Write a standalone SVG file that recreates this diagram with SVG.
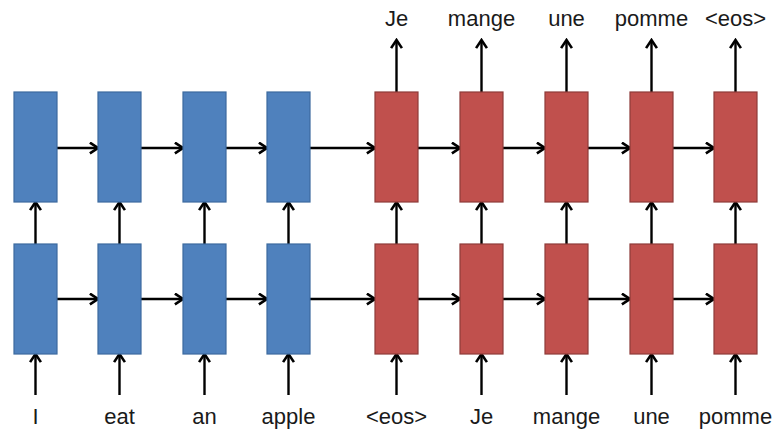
<svg xmlns="http://www.w3.org/2000/svg" width="778" height="435" viewBox="0 0 778 435">
<defs>
<marker id="ah" viewBox="0 0 12 12" refX="10.5" refY="6" markerWidth="13" markerHeight="13" markerUnits="userSpaceOnUse" orient="auto">
<polyline points="3,1 10.5,6 3,11" fill="none" stroke="#000" stroke-width="2.4" stroke-linejoin="miter"/>
</marker>
</defs>
<style>
.enc{fill:#4f81bd;stroke:#3d6a9e;stroke-width:1.2}
.dec{fill:#c0504d;stroke:#8e3b39;stroke-width:1.2}
.c line{stroke:#000;stroke-width:2.4;marker-end:url(#ah)}
text{font-family:"Liberation Sans",Arial,sans-serif;font-size:22px;fill:#1a1a1a;text-anchor:middle}
</style>
<rect width="778" height="435" fill="#fff"/>
<g class="c" id="connectors">
<line x1="57" y1="148" x2="98" y2="148"/>
<line x1="141" y1="148" x2="183" y2="148"/>
<line x1="226" y1="148" x2="267" y2="148"/>
<line x1="310" y1="148" x2="375" y2="148"/>
<line x1="418" y1="148" x2="460" y2="148"/>
<line x1="503" y1="148" x2="545" y2="148"/>
<line x1="588" y1="148" x2="630" y2="148"/>
<line x1="673" y1="148" x2="714" y2="148"/>
<line x1="57" y1="299" x2="98" y2="299"/>
<line x1="141" y1="299" x2="183" y2="299"/>
<line x1="226" y1="299" x2="267" y2="299"/>
<line x1="310" y1="299" x2="375" y2="299"/>
<line x1="418" y1="299" x2="460" y2="299"/>
<line x1="503" y1="299" x2="545" y2="299"/>
<line x1="588" y1="299" x2="630" y2="299"/>
<line x1="673" y1="299" x2="714" y2="299"/>
<line x1="35.5" y1="244" x2="35.5" y2="202"/>
<line x1="119.5" y1="244" x2="119.5" y2="202"/>
<line x1="204.5" y1="244" x2="204.5" y2="202"/>
<line x1="288.5" y1="244" x2="288.5" y2="202"/>
<line x1="396.5" y1="244" x2="396.5" y2="202"/>
<line x1="481.5" y1="244" x2="481.5" y2="202"/>
<line x1="566.5" y1="244" x2="566.5" y2="202"/>
<line x1="651.5" y1="244" x2="651.5" y2="202"/>
<line x1="735.5" y1="244" x2="735.5" y2="202"/>
<line x1="35.5" y1="395" x2="35.5" y2="354"/>
<line x1="119.5" y1="395" x2="119.5" y2="354"/>
<line x1="204.5" y1="395" x2="204.5" y2="354"/>
<line x1="288.5" y1="395" x2="288.5" y2="354"/>
<line x1="396.5" y1="395" x2="396.5" y2="354"/>
<line x1="481.5" y1="395" x2="481.5" y2="354"/>
<line x1="566.5" y1="395" x2="566.5" y2="354"/>
<line x1="651.5" y1="395" x2="651.5" y2="354"/>
<line x1="735.5" y1="395" x2="735.5" y2="354"/>
<line x1="396.5" y1="92" x2="396.5" y2="40"/>
<line x1="481.5" y1="92" x2="481.5" y2="40"/>
<line x1="566.5" y1="92" x2="566.5" y2="40"/>
<line x1="651.5" y1="92" x2="651.5" y2="40"/>
<line x1="735.5" y1="92" x2="735.5" y2="40"/>
</g>
<g id="enc-top-1"><rect class="enc" x="14" y="92" width="43" height="110"/></g>
<g id="enc-top-2"><rect class="enc" x="98" y="92" width="43" height="110"/></g>
<g id="enc-top-3"><rect class="enc" x="183" y="92" width="43" height="110"/></g>
<g id="enc-top-4"><rect class="enc" x="267" y="92" width="43" height="110"/></g>
<g id="dec-top-1"><rect class="dec" x="375" y="92" width="43" height="110"/></g>
<g id="dec-top-2"><rect class="dec" x="460" y="92" width="43" height="110"/></g>
<g id="dec-top-3"><rect class="dec" x="545" y="92" width="43" height="110"/></g>
<g id="dec-top-4"><rect class="dec" x="630" y="92" width="43" height="110"/></g>
<g id="dec-top-5"><rect class="dec" x="714" y="92" width="43" height="110"/></g>
<g id="enc-bot-1"><rect class="enc" x="14" y="244" width="43" height="110"/></g>
<g id="enc-bot-2"><rect class="enc" x="98" y="244" width="43" height="110"/></g>
<g id="enc-bot-3"><rect class="enc" x="183" y="244" width="43" height="110"/></g>
<g id="enc-bot-4"><rect class="enc" x="267" y="244" width="43" height="110"/></g>
<g id="dec-bot-1"><rect class="dec" x="375" y="244" width="43" height="110"/></g>
<g id="dec-bot-2"><rect class="dec" x="460" y="244" width="43" height="110"/></g>
<g id="dec-bot-3"><rect class="dec" x="545" y="244" width="43" height="110"/></g>
<g id="dec-bot-4"><rect class="dec" x="630" y="244" width="43" height="110"/></g>
<g id="dec-bot-5"><rect class="dec" x="714" y="244" width="43" height="110"/></g>
<g id="outputs">
<text x="396.5" y="26">Je</text>
<text x="481.5" y="26">mange</text>
<text x="566.5" y="26">une</text>
<text x="651.5" y="26">pomme</text>
<text x="735.5" y="26">&lt;eos&gt;</text>
</g>
<g id="inputs">
<text x="35.5" y="424">I</text>
<text x="119.5" y="424">eat</text>
<text x="204.5" y="424">an</text>
<text x="288.5" y="424">apple</text>
<text x="396.5" y="424">&lt;eos&gt;</text>
<text x="481.5" y="424">Je</text>
<text x="566.5" y="424">mange</text>
<text x="651.5" y="424">une</text>
<text x="735.5" y="424">pomme</text>
</g>
</svg>
